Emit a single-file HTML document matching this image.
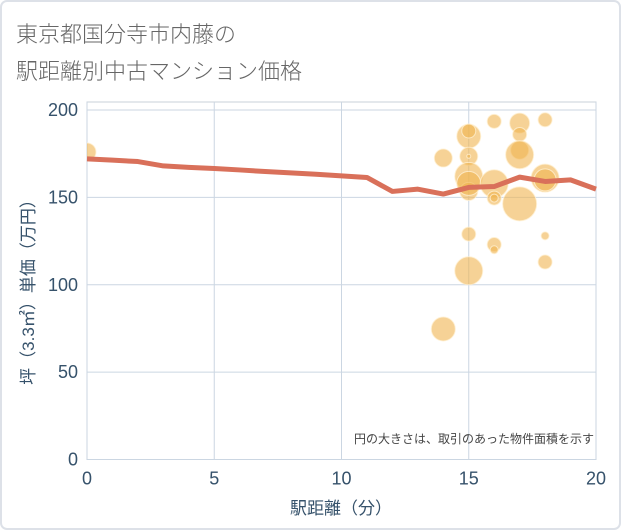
<!DOCTYPE html>
<html><head><meta charset="utf-8"><style>
html,body{margin:0;padding:0;background:#fff;}
svg{display:block;font-family:"Liberation Sans","Noto Sans CJK JP",sans-serif;}
</style></head><body>
<svg id="chart" width="621" height="530" viewBox="0 0 621 530" xmlns="http://www.w3.org/2000/svg">
<rect x="1" y="1" width="619" height="528" rx="6" fill="#fff" stroke="#dde1e8" stroke-width="2"/>
<text x="16" y="42" font-size="22" fill="#666" font-family="Noto Sans CJK JP, sans-serif" font-weight="300">東京都国分寺市内藤の</text>
<text x="16" y="79" font-size="22" fill="#666" font-family="Noto Sans CJK JP, sans-serif" font-weight="300">駅距離別中古マンション価格</text>
<g id="grid"></g>
<g id="axes"></g>
<g id="bubbles"></g>
<g id="line"></g>
<text transform="translate(34,288) rotate(-90)" text-anchor="middle" font-size="17" fill="#36526b">坪（3.3㎡）単価（万円）</text>
<text x="341" y="514" text-anchor="middle" font-size="17" fill="#36526b">駅距離（分）</text>
<text x="594" y="443" text-anchor="end" font-size="12" fill="#444">円の大きさは、取引のあった物件面積を示す</text>
</svg>
<script>
const xTicks=[0,5,10,15,20];
const yTicks=[0,50,100,150,200];
const lineX=[0,1,2,3,4,5,6,7,8,9,10,11,12,13,14,15,16,17,18,19,20];
const lineY=[172,171.3,170.5,168,167.2,166.5,165.7,164.8,164,163.2,162.3,161.4,153.4,154.7,151.9,155.7,156.2,161.6,159.1,160,154.7];
const bubX=[0,14,14,15,15,15,15,15,15,15,15,15,16,16,16,16,16,16,17,17,17,17,17,18,18,18,18,18];
const bubY=[176,172.5,74.7,185,188,173.5,173.5,162,153.4,158,129,108,193.5,157.8,149.6,149.6,123,120,192.5,186,177,174.4,146.3,194.4,161,160,128,113];
const bubR=[9,9,12,12,7,9,2,14,9,12,7,14,7,14,7,4,7,4,10,7,9,14,17,7,14,11,4,7];
const X0=87,X1=596,Y0=459.5,Y1=110;
const sx=v=>X0+(v-0)/20*(X1-X0);
const sy=v=>Y0-(v/200)*(Y0-Y1);
const NS="http://www.w3.org/2000/svg";
function mk(t,a,p){const e=document.createElementNS(NS,t);for(const k in a)e.setAttribute(k,a[k]);p.appendChild(e);return e;}
const grid=document.getElementById('grid'),axes=document.getElementById('axes');
mk('rect',{x:X0,y:102,width:X1-X0,height:Y0-102,fill:'none',stroke:'#c8d0da'},grid);
xTicks.forEach(t=>{const l=mk('line',{x1:sx(t),x2:sx(t),y1:102,y2:Y0,stroke:'#cbd6e2'},grid);


const tx=mk('text',{x:sx(t),y:Y0+25,'text-anchor':'middle','font-size':18,fill:'#36526b'},axes);tx.textContent=t;

});
yTicks.forEach(t=>{const l=mk('line',{x1:X0,x2:X1,y1:sy(t),y2:sy(t),stroke:'#cbd6e2'},grid);


const tx=mk('text',{x:X0-9,y:sy(t)+6,'text-anchor':'end','font-size':18,fill:'#36526b'},axes);tx.textContent=t;

});
const bg=document.getElementById('bubbles');
const clip=mk('clipPath',{id:'pc'},bg);mk('rect',{x:X0,y:102,width:X1-X0,height:Y0-102},clip);
bubX.forEach((x,i)=>{const c=mk('circle',{cx:sx(x),cy:sy(bubY[i]),r:bubR[i],fill:'rgba(240,180,80,0.6)',stroke:'rgba(255,240,210,0.8)','stroke-width':1,'clip-path':'url(#pc)'},bg);

});
const lg=document.getElementById('line');
const p=mk('polyline',{points:lineX.map((x,i)=>sx(x)+','+sy(lineY[i])).join(' '),fill:'none',stroke:'#d9705a','stroke-width':5,'stroke-linejoin':'round'},lg);


</script>
</body></html>
